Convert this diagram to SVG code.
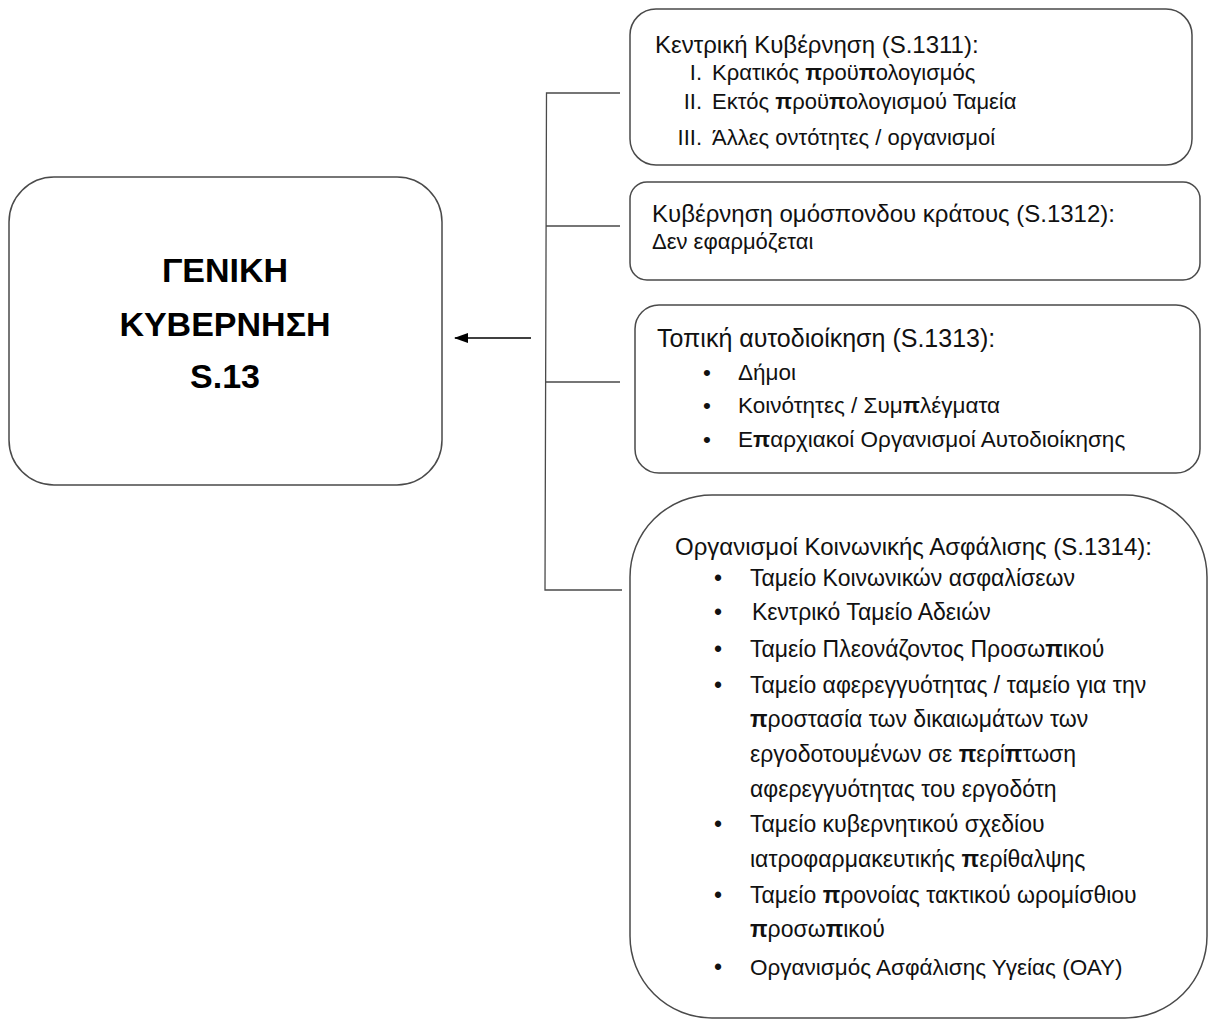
<svg xmlns="http://www.w3.org/2000/svg" width="1208" height="1020" viewBox="0 0 1208 1020">
<defs>
<marker id="arr" markerWidth="14" markerHeight="10" refX="13" refY="5" orient="auto" markerUnits="userSpaceOnUse">
<path d="M0,0 L14,5 L0,10 z" fill="#000"/>
</marker>
<style>
.box{fill:#fff;stroke:#4a4a4a;stroke-width:1.5}
.t{font-family:"Liberation Sans",Arial,sans-serif;font-size:22px;fill:#111}
.h{font-size:24px}
.i3{font-size:22.5px}
.i4{font-size:23px}
.big{font-family:"Liberation Sans",Arial,sans-serif;font-size:34px;font-weight:bold;fill:#000;text-anchor:middle}
.num{text-anchor:end}
.pb{font-weight:bold}
.ln{stroke:#4a4a4a;stroke-width:1.3;fill:none}
</style>
</defs>
<rect width="1208" height="1020" fill="#fff"/>
<g id="connectors">
<path class="ln" d="M620,93 H546.5 L545,590 H622"/>
<path class="ln" d="M546,226 H620 M545.5,382 H620"/>
<line x1="531" y1="338" x2="455" y2="338" stroke="#000" stroke-width="1.5" marker-end="url(#arr)"/>
</g>
<g id="general-government">
<rect class="box" x="9" y="177" width="433" height="308" rx="45"/>
<text class="big" x="225" y="282">ΓΕΝΙΚΗ</text>
<text class="big" x="225" y="336">ΚΥΒΕΡΝΗΣΗ</text>
<text class="big" x="225" y="388">S.13</text>
</g>
<g id="s1311">
<rect class="box" x="630" y="9" width="562" height="156" rx="26"/>
<text class="t h" x="655" y="53">Κεντρική Κυβέρνηση (S.1311):</text>
<text class="t num" x="702" y="80">I.</text>
<text class="t" x="712" y="80">Κρατικός <tspan class="pb">π</tspan>ροϋ<tspan class="pb">π</tspan>ολογισμός</text>
<text class="t num" x="702" y="109">II.</text>
<text class="t" x="712" y="109">Εκτός <tspan class="pb">π</tspan>ροϋ<tspan class="pb">π</tspan>ολογισμού Ταμεία</text>
<text class="t num" x="702" y="145">III.</text>
<text class="t" x="712" y="145">Άλλες οντότητες / οργανισμοί</text>
</g>
<g id="s1312">
<rect class="box" x="630" y="182" width="570" height="98" rx="17"/>
<text class="t h" x="652" y="222">Κυβέρνηση ομόσπονδου κράτους (S.1312):</text>
<text class="t" x="652" y="249">Δεν εφαρμόζεται</text>
</g>
<g id="s1313">
<rect class="box" x="635" y="305" width="565" height="168" rx="24"/>
<text class="t h" x="657" y="347" style="font-size:25px">Τοπική αυτοδιοίκηση (S.1313):</text>
<text class="t i3" x="703" y="380">•</text>
<text class="t i3" x="738" y="380">Δήμοι</text>
<text class="t i3" x="703" y="413">•</text>
<text class="t i3" x="738" y="413">Κοινότητες / Συμ<tspan class="pb">π</tspan>λέγματα</text>
<text class="t i3" x="703" y="447">•</text>
<text class="t i3" x="738" y="447">Ε<tspan class="pb">π</tspan>αρχιακοί Οργανισμοί Αυτοδιοίκησης</text>
</g>
<g id="s1314">
<rect class="box" x="630" y="495" width="577" height="523" rx="82"/>
<text class="t h" x="675" y="555">Οργανισμοί Κοινωνικής Ασφάλισης (S.1314):</text>
<text class="t i4" x="714" y="586">•</text>
<text class="t i4" x="750" y="586">Ταμείο Κοινωνικών ασφαλίσεων</text>
<text class="t i4" x="714" y="620">•</text>
<text class="t i4" x="752" y="620">Κεντρικό Ταμείο Αδειών</text>
<text class="t i4" x="714" y="657">•</text>
<text class="t i4" x="750" y="657">Ταμείο Πλεονάζοντος Προσω<tspan class="pb">π</tspan>ικού</text>
<text class="t i4" x="714" y="693">•</text>
<text class="t i4" x="750" y="693">Ταμείο αφερεγγυότητας / ταμείο για την</text>
<text class="t i4" x="750" y="727"><tspan class="pb">π</tspan>ροστασία των δικαιωμάτων των</text>
<text class="t i4" x="750" y="762">εργοδοτουμένων σε <tspan class="pb">π</tspan>ερί<tspan class="pb">π</tspan>τωση</text>
<text class="t i4" x="750" y="797">αφερεγγυότητας του εργοδότη</text>
<text class="t i4" x="714" y="832">•</text>
<text class="t i4" x="750" y="832">Ταμείο κυβερνητικού σχεδίου</text>
<text class="t i4" x="750" y="867">ιατροφαρμακευτικής <tspan class="pb">π</tspan>ερίθαλψης</text>
<text class="t i4" x="714" y="903">•</text>
<text class="t i4" x="750" y="903">Ταμείο <tspan class="pb">π</tspan>ρονοίας τακτικού ωρομίσθιου</text>
<text class="t i4" x="750" y="937"><tspan class="pb">π</tspan>ροσω<tspan class="pb">π</tspan>ικού</text>
<text class="t i4" x="714" y="975">•</text>
<text class="t i3" x="750" y="975">Οργανισμός Ασφάλισης Υγείας (ΟΑΥ)</text>
</g>
</svg>
